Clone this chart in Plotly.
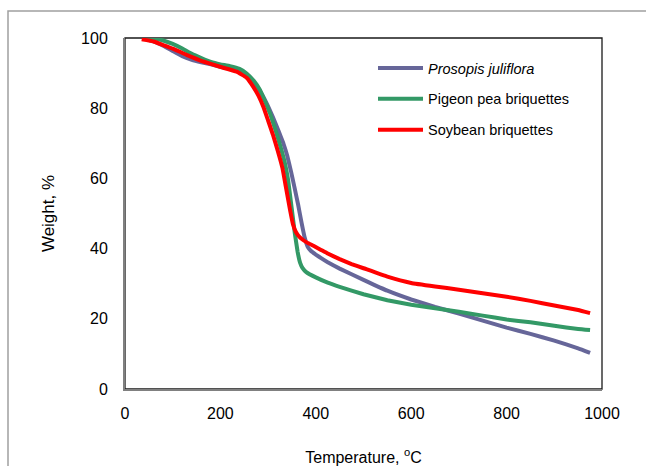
import plotly.graph_objects as go

# Temperature (°C) and weight (%)
prosopis_T = [40, 60, 80, 100, 120, 140, 160, 180, 200, 220, 240, 260, 280, 297, 310, 322, 332, 340, 348, 356, 363, 370, 377, 383, 390, 400, 412, 425, 450, 500, 550, 600, 650, 700, 750, 800, 850, 900, 950, 975]
prosopis_W = [100, 99.0, 97.8, 96.3, 94.8, 93.8, 93.1, 92.5, 91.8, 91.3, 90.6, 88.8, 85.5, 81.4, 77.5, 73.5, 70, 66.5, 62, 57, 52.5, 47.5, 43, 40.5, 39.3, 38.3, 37.2, 36.1, 34.3, 31.1, 28, 25.5, 23.4, 21.5, 19.5, 17.5, 15.7, 13.8, 11.6, 10.3]

pigeon_T = [40, 60, 80, 100, 120, 140, 160, 180, 200, 220, 240, 255, 270, 283, 295, 304, 315, 325, 335, 342, 349, 356, 362, 367, 372, 380, 400, 425, 450, 500, 550, 600, 650, 700, 750, 800, 850, 900, 950, 975]
pigeon_W = [100, 99.9, 99.3, 98.3, 97.0, 95.5, 94.3, 93.2, 92.5, 92.0, 91.2, 89.9, 87.8, 85.2, 81.5, 78.5, 74, 69.5, 64.5, 59.5, 52, 44.4, 39, 36, 34.5, 33.3, 31.8, 30.3, 29.1, 27.0, 25.3, 24, 23, 22, 20.9, 19.8, 19, 18, 17.1, 16.8]

soybean_T = [35, 60, 80, 100, 129, 164, 199, 234, 255, 269, 280, 290, 300, 310, 320, 330, 338, 346, 352, 358, 364, 372, 382, 395, 410, 425, 450, 475, 500, 550, 600, 650, 700, 750, 800, 850, 900, 950, 975]
soybean_W = [99.6, 99.0, 98.0, 97.0, 95.2, 93.3, 91.8, 90.4, 88.7, 86.1, 83.5, 80.4, 76.5, 72.5, 68, 63, 57, 51, 47, 44.8, 43.6, 42.6, 41.7, 40.8, 39.7, 38.6, 37.0, 35.6, 34.4, 32.0, 30.2, 29.2, 28.3, 27.3, 26.3, 25.1, 23.8, 22.5, 21.6]

x_ticks = [0, 200, 400, 600, 800, 1000]
y_ticks = [0, 20, 40, 60, 80, 100]

FONT = "Liberation Sans, Arial, sans-serif"

fig = go.Figure()
series = [
    ("<i>Prosopis juliflora</i>", prosopis_T, prosopis_W, "#666699", "g1"),
    ("Pigeon pea briquettes", pigeon_T, pigeon_W, "#339966", "g2"),
    ("Soybean briquettes", soybean_T, soybean_W, "#FF0000", "g3"),
]
for name, t, w, c, g in series:
    fig.add_trace(go.Scatter(x=t, y=w, mode="lines", name=name, legendgroup=g,
                             line=dict(color=c, width=4, shape="spline", smoothing=0.25)))

L, R, T, B = 125, 602, 38, 389
W, H = 646, 466
pw, ph = R - L, B - T

fig.update_layout(
    width=W, height=H,
    margin=dict(l=L, r=W - R, t=T, b=H - B, autoexpand=False),
    paper_bgcolor="white", plot_bgcolor="white",
    font=dict(family=FONT, size=16, color="black"),
    showlegend=True,
    legend=dict(x=(373 - L) / pw, y=(B - 52) / ph, xanchor="left", yanchor="top",
                bgcolor="rgba(0,0,0,0)", borderwidth=0, tracegroupgap=9, itemwidth=45,
                font=dict(family=FONT, size=14.5, color="black")),
    xaxis=dict(range=[0, 1000], tickvals=x_ticks, ticktext=[str(v) for v in x_ticks],
               showgrid=False, zeroline=False, showline=True, linecolor="#808080", linewidth=2,
               ticks="", ticklabelstandoff=9,
               title=dict(text="Temperature, <sup>o</sup>C", standoff=31, font=dict(size=16))),
    yaxis=dict(range=[0, 100], tickvals=y_ticks, ticktext=[str(v) for v in y_ticks],
               showgrid=False, zeroline=False, showline=True, linecolor="#808080", linewidth=2,
               ticks="", ticklabelstandoff=12,
               title=dict(text="Weight, %", standoff=22, font=dict(size=17))),
    shapes=[
        dict(type="rect", xref="paper", yref="paper", x0=0, y0=0, x1=1, y1=1,
             line=dict(color="#1a1a1a", width=1.3), layer="below"),
        dict(type="rect", xref="paper", yref="paper",
             x0=(8 - L) / pw, x1=(W + 10 - L) / pw,
             y0=(B - (H + 10)) / ph, y1=(B - 11) / ph,
             line=dict(color="#A0A0A0", width=1.5), layer="below"),
    ],
)

fig.write_html("out.html", config={"displayModeBar": False},
               post_script="document.body.style.margin='0';document.body.style.overflow='hidden';")
